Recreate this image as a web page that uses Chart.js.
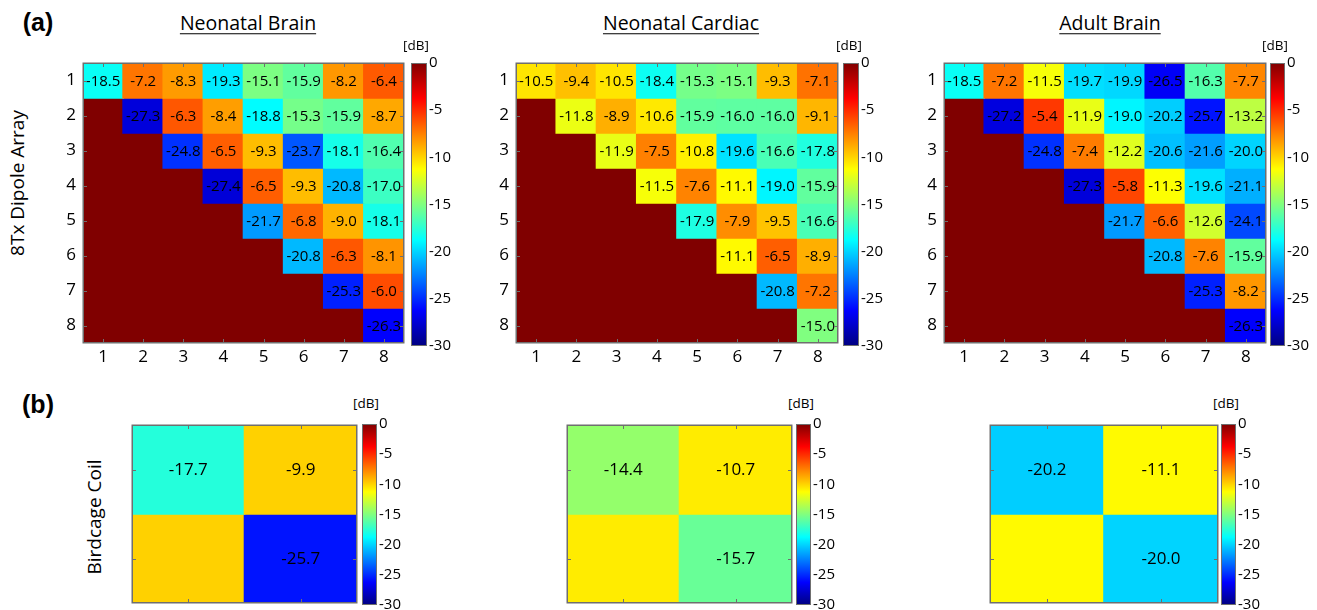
<!DOCTYPE html>
<html>
<head>
<meta charset="utf-8">
<script src="https://cdn.jsdelivr.net/npm/chart.js@4/dist/chart.umd.min.js"></script>
<style>
  html, body { margin: 0; padding: 0; background: #fff; }
  body { width: 1317px; height: 610px; position: relative; overflow: hidden; font-family: 'Open Sans', sans-serif; }
  canvas { position: absolute; }
  .txt { position: absolute; white-space: nowrap; color: #000; line-height: 1; }
</style>
</head>
<body>
<script>
// ---------------- DATA ----------------
const rowLabels = ['1', '2', '3', '4', '5', '6', '7', '8'];
const colLabels = ['1', '2', '3', '4', '5', '6', '7', '8'];
const birdcageLabels = ['1', '2'];

const panelTitles = ['Neonatal Brain', 'Neonatal Cardiac', 'Adult Brain'];

// 8Tx dipole array coupling matrices [dB]; lower triangle shown as 0 dB
const neonatalBrain = [
  [-18.5, -7.2, -8.3, -19.3, -15.1, -15.9, -8.2, -6.4],
  [0, -27.3, -6.3, -8.4, -18.8, -15.3, -15.9, -8.7],
  [0, 0, -24.8, -6.5, -9.3, -23.7, -18.1, -16.4],
  [0, 0, 0, -27.4, -6.5, -9.3, -20.8, -17.0],
  [0, 0, 0, 0, -21.7, -6.8, -9.0, -18.1],
  [0, 0, 0, 0, 0, -20.8, -6.3, -8.1],
  [0, 0, 0, 0, 0, 0, -25.3, -6.0],
  [0, 0, 0, 0, 0, 0, 0, -26.3]
];
const neonatalCardiac = [
  [-10.5, -9.4, -10.5, -18.4, -15.3, -15.1, -9.3, -7.1],
  [0, -11.8, -8.9, -10.6, -15.9, -16.0, -16.0, -9.1],
  [0, 0, -11.9, -7.5, -10.8, -19.6, -16.6, -17.8],
  [0, 0, 0, -11.5, -7.6, -11.1, -19.0, -15.9],
  [0, 0, 0, 0, -17.9, -7.9, -9.5, -16.6],
  [0, 0, 0, 0, 0, -11.1, -6.5, -8.9],
  [0, 0, 0, 0, 0, 0, -20.8, -7.2],
  [0, 0, 0, 0, 0, 0, 0, -15.0]
];
const adultBrain = [
  [-18.5, -7.2, -11.5, -19.7, -19.9, -26.5, -16.3, -7.7],
  [0, -27.2, -5.4, -11.9, -19.0, -20.2, -25.7, -13.2],
  [0, 0, -24.8, -7.4, -12.2, -20.6, -21.6, -20.0],
  [0, 0, 0, -27.3, -5.8, -11.3, -19.6, -21.1],
  [0, 0, 0, 0, -21.7, -6.6, -12.6, -24.1],
  [0, 0, 0, 0, 0, -20.8, -7.6, -15.9],
  [0, 0, 0, 0, 0, 0, -25.3, -8.2],
  [0, 0, 0, 0, 0, 0, 0, -26.3]
];

// Birdcage coil (2 ports) coupling matrices [dB]
const birdcageNeonatalBrain = [[-17.7, -9.9], [-9.9, -25.7]];
const birdcageNeonatalCardiac = [[-14.4, -10.7], [-10.7, -15.7]];
const birdcageAdultBrain = [[-20.2, -11.1], [-11.1, -20.0]];

// colour scale
const cbRange = [-30, 0];
const cbTicks = [0, -5, -10, -15, -20, -25, -30];

// ---------------- STYLE / LAYOUT ----------------
const FONT = "'Open Sans', sans-serif";

function jet(v) {
  const t = Math.min(1, Math.max(0, (v - cbRange[0]) / (cbRange[1] - cbRange[0])));
  const f = k => Math.round(255 * Math.min(1, Math.max(0, 1.5 - Math.abs(4 * t - k))));
  return 'rgb(' + f(3) + ',' + f(2) + ',' + f(1) + ')';
}

function addText(text, cx, cy, css, rot) {
  const d = document.createElement('div');
  d.className = 'txt';
  d.textContent = text;
  Object.assign(d.style, css || {});
  d.style.left = cx + 'px';
  d.style.top = cy + 'px';
  d.style.transform = 'translate(-50%,-50%)' + (rot ? ' rotate(' + rot + 'deg)' : '');
  document.body.appendChild(d);
}

function makeCanvas(left, top, w, h) {
  const c = document.createElement('canvas');
  c.width = w; c.height = h;
  c.style.left = left + 'px'; c.style.top = top + 'px';
  c.style.width = w + 'px'; c.style.height = h + 'px';
  document.body.appendChild(c);
  return c;
}

const heatPlugin = {
  id: 'heatDecor',
  afterDatasetsDraw(chart, args, opts) {
    const ctx = chart.ctx;
    const { left, right, top, bottom } = chart.chartArea;
    ctx.save();
    // cell values (upper triangle incl. diagonal)
    ctx.fillStyle = '#000';
    ctx.font = opts.fontSize + 'px ' + FONT;
    ctx.textAlign = 'center';
    ctx.textBaseline = 'middle';
    chart.data.datasets.forEach((ds, r) => {
      chart.getDatasetMeta(r).data.forEach((el, c) => {
        if (c >= r) {
          const p = el.getCenterPoint();
          ctx.fillText(ds.values[c].toFixed(1), p.x, p.y + 1);
        }
      });
    });
    // inward tick marks + box
    ctx.strokeStyle = '#6f6f6f';
    ctx.lineWidth = 1;
    ctx.beginPath();
    const xs = chart.scales.x, ys = chart.scales.y;
    const L = 4;
    xs.ticks.forEach((t, i) => {
      const px = Math.round(xs.getPixelForTick(i)) + 0.5;
      ctx.moveTo(px, bottom); ctx.lineTo(px, bottom - L);
      ctx.moveTo(px, top); ctx.lineTo(px, top + L);
    });
    ys.ticks.forEach((t, i) => {
      const py = Math.round(ys.getPixelForTick(i)) + 0.5;
      ctx.moveTo(left, py); ctx.lineTo(left + L, py);
      ctx.moveTo(right, py); ctx.lineTo(right - L, py);
    });
    ctx.stroke();
    ctx.lineWidth = 1.5;
    ctx.strokeRect(left + 0.25, top + 0.25, right - left - 0.5, bottom - top - 0.5);
    ctx.restore();
  }
};

function makeHeatmap(p) {
  const [x0, y0, x1, y1] = p.box;
  const padL = p.tickLabels ? 40 : 2, padB = p.tickLabels ? 28 : 2, padT = 2, padR = 2;
  const W = (x1 - x0) + padL + padR, H = (y1 - y0) + padT + padB;
  const c = makeCanvas(x0 - padL, y0 - padT, W, H);
  const tickFont = { family: FONT, size: 17 };
  return new Chart(c, {
    type: 'bar',
    data: {
      labels: p.cols,
      datasets: p.m.map((row, r) => ({
        label: p.rows[r],
        values: row,
        data: row.map(() => [+p.rows[r] - 0.5, +p.rows[r] + 0.5]),
        backgroundColor: row.map(jet),
        borderWidth: 0,
        inflateAmount: 0.8,
        barPercentage: 1,
        categoryPercentage: 1,
        grouped: false
      }))
    },
    options: {
      responsive: false,
      animation: false,
      events: [],
      layout: { padding: { left: 0, top: padT, right: padR, bottom: 0 } },
      plugins: { legend: { display: false }, tooltip: { enabled: false }, heatDecor: { fontSize: p.fontSize } },
      scales: {
        x: {
          type: 'category', offset: true,
          grid: { display: false, drawTicks: false }, border: { display: false },
          ticks: { display: p.tickLabels, color: '#000', font: tickFont, padding: 4, maxRotation: 0, autoSkip: false },
          afterFit(s) { s.height = padB; s.paddingLeft = 0; s.paddingRight = 0; }
        },
        y: {
          type: 'linear', min: 0.5, max: p.rows.length + 0.5, reverse: true,
          grid: { display: false, drawTicks: false }, border: { display: false },
          afterBuildTicks(s) { s.ticks = p.rows.map(l => ({ value: +l })); },
          ticks: { display: p.tickLabels, color: '#000', font: tickFont, padding: 7, autoSkip: false, callback: v => String(v) },
          afterFit(s) { s.width = padL; s.paddingTop = 0; s.paddingBottom = 0; }
        }
      }
    },
    plugins: [heatPlugin]
  });
}

const cbBorderPlugin = {
  id: 'cbBorder',
  afterDatasetsDraw(chart) {
    const ctx = chart.ctx;
    const { left, right, top, bottom } = chart.chartArea;
    ctx.save();
    ctx.strokeStyle = '#6f6f6f';
    ctx.lineWidth = 1;
    ctx.strokeRect(left + 0.5, top + 0.5, right - left - 1, bottom - top - 1);
    ctx.restore();
  }
};

function makeColorbar(box) {
  const [x0, y0, x1, y1] = box;
  const padR = 38, padV = 10;
  const c = makeCanvas(x0, y0 - padV, (x1 - x0) + padR, (y1 - y0) + 2 * padV);
  return new Chart(c, {
    type: 'bar',
    data: {
      labels: ['dB'],
      datasets: [{
        data: [cbRange],
        backgroundColor(ctx) {
          const chart = ctx.chart;
          if (!chart.chartArea) return 'rgba(0,0,0,0)';
          const ys = chart.scales.y;
          const g = chart.ctx.createLinearGradient(0, ys.getPixelForValue(cbRange[0]), 0, ys.getPixelForValue(cbRange[1]));
          for (let i = 0; i <= 16; i++) {
            g.addColorStop(i / 16, jet(cbRange[0] + (cbRange[1] - cbRange[0]) * i / 16));
          }
          return g;
        },
        borderWidth: 0,
        barPercentage: 1,
        categoryPercentage: 1
      }]
    },
    options: {
      responsive: false,
      animation: false,
      events: [],
      layout: { padding: { left: 0, top: padV, right: 0, bottom: padV } },
      plugins: { legend: { display: false }, tooltip: { enabled: false } },
      scales: {
        x: { type: 'category', display: false, offset: true },
        y: {
          type: 'linear', position: 'right', min: cbRange[0], max: cbRange[1],
          grid: { display: false, drawTicks: false }, border: { display: false },
          afterBuildTicks(s) { s.ticks = cbTicks.slice().sort((a, b) => a - b).map(v => ({ value: v })); },
          ticks: { color: '#000', font: { family: FONT, size: 15 }, padding: 2, autoSkip: false, callback: v => String(v) },
          afterFit(s) { s.width = padR; s.paddingTop = 0; s.paddingBottom = 0; }
        }
      }
    },
    plugins: [cbBorderPlugin]
  });
}

// ---------------- BUILD ----------------
const panels = [
  { m: neonatalBrain, rows: rowLabels, cols: colLabels, box: [83, 63, 404, 343], tickLabels: true, fontSize: 15 },
  { m: neonatalCardiac, rows: rowLabels, cols: colLabels, box: [516, 63, 838, 343], tickLabels: true, fontSize: 15 },
  { m: adultBrain, rows: rowLabels, cols: colLabels, box: [944, 63, 1266, 343], tickLabels: true, fontSize: 15 },
  { m: birdcageNeonatalBrain, rows: birdcageLabels, cols: birdcageLabels, box: [132, 425, 357, 603], tickLabels: false, fontSize: 17 },
  { m: birdcageNeonatalCardiac, rows: birdcageLabels, cols: birdcageLabels, box: [567, 425, 792, 603], tickLabels: false, fontSize: 17 },
  { m: birdcageAdultBrain, rows: birdcageLabels, cols: birdcageLabels, box: [990, 425, 1218, 603], tickLabels: false, fontSize: 17 }
];
panels.forEach(makeHeatmap);

const colorbars = [
  [411, 63, 427, 346], [843, 63, 859, 346], [1270, 63, 1285, 346],
  [362, 424, 377, 605], [796, 424, 811, 605], [1221, 424, 1236, 605]
];
colorbars.forEach(makeColorbar);

// ---------------- TEXT ----------------
const boldCss = { fontFamily: "'Liberation Sans', Arial, sans-serif", fontWeight: 'bold', fontSize: '25px' };
addText('(a)', 38, 22, boldCss);
addText('(b)', 38, 404, boldCss);

const titleCss = { fontFamily: FONT, fontSize: '19.5px', textDecoration: 'underline', textUnderlineOffset: '3px' };
addText(panelTitles[0], 248, 23, titleCss);
addText(panelTitles[1], 681, 23, titleCss);
addText(panelTitles[2], 1110, 23, titleCss);

const dbCss = { fontFamily: FONT, fontSize: '13.5px' };
[[416, 46], [849, 46], [1275, 46], [366, 404], [801, 404], [1226, 404]].forEach(p => addText('[dB]', p[0], p[1], dbCss));

const axCss = { fontFamily: FONT, fontSize: '19px' };
addText('8Tx Dipole Array', 17, 183, axCss, -90);
addText('Birdcage Coil', 94, 517, axCss, -90);
</script>
</body>
</html>
